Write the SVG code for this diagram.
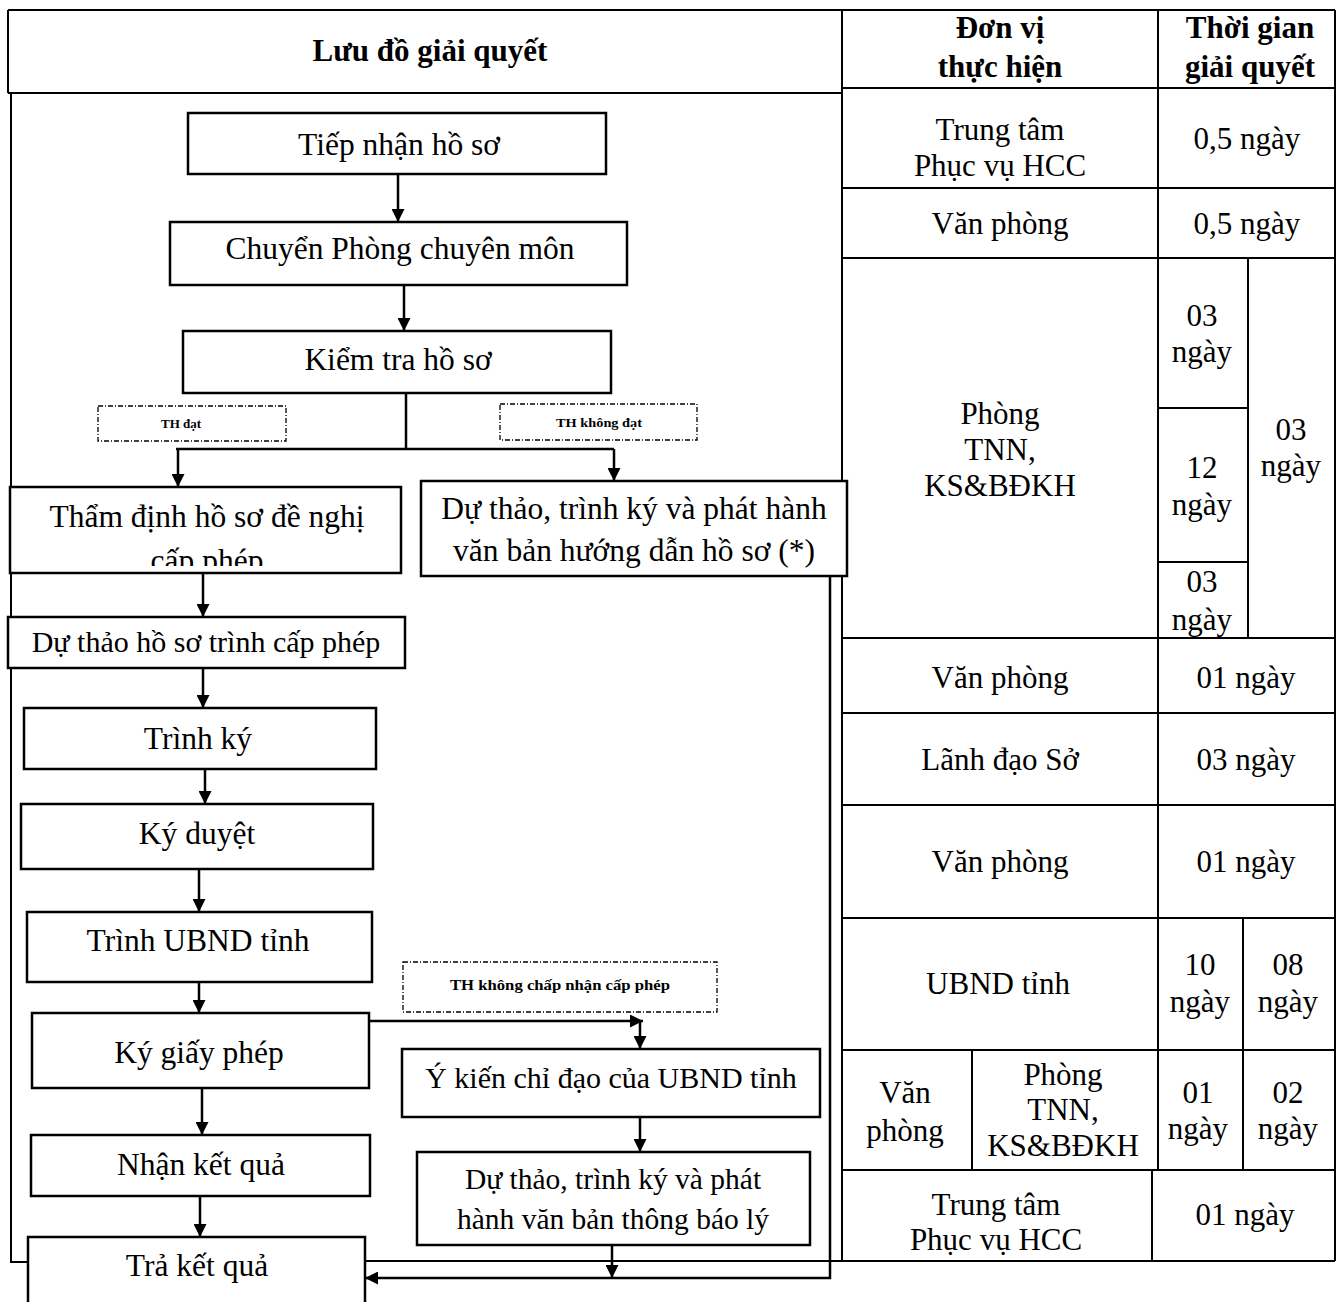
<svg xmlns="http://www.w3.org/2000/svg" width="1340" height="1302" viewBox="0 0 1340 1302">
<style>
text{font-family:"Liberation Serif","Times New Roman",serif;fill:#000;text-anchor:middle}
.t{font-size:31.5px}
.t2{font-size:30px}
.t3{font-size:29.5px}
.h{font-size:31px;font-weight:bold}
.c{font-size:31px}
.s{font-size:12px;font-weight:bold}
.s2{font-size:14px;font-weight:bold}
.box{fill:#fff;stroke:#000;stroke-width:2.5}
.lbl{fill:#fff;stroke:#000;stroke-width:1.3;stroke-dasharray:5 2 1 2}
.ln{fill:none;stroke:#000;stroke-width:2.5}
.tb{fill:none;stroke:#000;stroke-width:2}
</style>
<defs>
<marker id="ah" viewBox="0 0 10 10" refX="10" refY="5" markerWidth="6" markerHeight="5.2" orient="auto" markerUnits="strokeWidth">
<path d="M0,0 L10,5 L0,10 z" fill="#000"/>
</marker>
<clipPath id="clipTD"><rect x="10" y="487" width="391" height="79"/></clipPath>
</defs>
<rect width="1340" height="1302" fill="#fff"/>

<g id="frame">
<path class="tb" d="M8,10 H1335 M8,10 V93 M8,93 H842 M11,93 V1262 H28 M365,1261 H1335 M842,10 V1261 M1335,10 V1261"/>
<text class="h" x="430" y="61">Lưu đồ giải quyết</text>
</g>

<g id="table">
<path class="tb" d="M1158,10 V1170 M842,88 H1335 M842,188 H1335 M842,258 H1335 M1248,258 V638 M1158,408 H1248 M1158,562 H1248 M842,638 H1335 M842,713 H1335 M842,805 H1335 M842,918 H1335 M1243,918 V1170 M842,1050 H1335 M972,1050 V1170 M842,1170 H1335 M1152,1170 V1261"/>
<text class="h" x="1000" y="38">Đơn vị</text>
<text class="h" x="1000" y="77">thực hiện</text>
<text class="h" x="1250" y="38">Thời gian</text>
<text class="h" x="1250" y="77">giải quyết</text>
<text class="c" x="1000" y="140">Trung tâm</text>
<text class="c" x="1000" y="176">Phục vụ HCC</text>
<text class="c" x="1247" y="149">0,5 ngày</text>
<text class="c" x="1000" y="234">Văn phòng</text>
<text class="c" x="1247" y="234">0,5 ngày</text>
<text class="c" x="1000" y="424">Phòng</text>
<text class="c" x="1000" y="460">TNN,</text>
<text class="c" x="1000" y="496">KS&amp;BĐKH</text>
<text class="c" x="1202" y="326">03</text>
<text class="c" x="1202" y="362">ngày</text>
<text class="c" x="1202" y="478">12</text>
<text class="c" x="1202" y="515">ngày</text>
<text class="c" x="1202" y="592">03</text>
<text class="c" x="1202" y="630">ngày</text>
<text class="c" x="1291" y="440">03</text>
<text class="c" x="1291" y="476">ngày</text>
<text class="c" x="1000" y="688">Văn phòng</text>
<text class="c" x="1246" y="688">01 ngày</text>
<text class="c" x="1000" y="770">Lãnh đạo Sở</text>
<text class="c" x="1246" y="770">03 ngày</text>
<text class="c" x="1000" y="872">Văn phòng</text>
<text class="c" x="1246" y="872">01 ngày</text>
<text class="c" x="998" y="994">UBND tỉnh</text>
<text class="c" x="1200" y="975">10</text>
<text class="c" x="1200" y="1012">ngày</text>
<text class="c" x="1288" y="975">08</text>
<text class="c" x="1288" y="1012">ngày</text>
<text class="c" x="905" y="1103">Văn</text>
<text class="c" x="905" y="1141">phòng</text>
<text class="c" x="1063" y="1085">Phòng</text>
<text class="c" x="1063" y="1120">TNN,</text>
<text class="c" x="1063" y="1156">KS&amp;BĐKH</text>
<text class="c" x="1198" y="1103">01</text>
<text class="c" x="1198" y="1139">ngày</text>
<text class="c" x="1288" y="1103">02</text>
<text class="c" x="1288" y="1139">ngày</text>
<text class="c" x="996" y="1215">Trung tâm</text>
<text class="c" x="996" y="1250">Phục vụ HCC</text>
<text class="c" x="1245" y="1225">01 ngày</text>
</g>

<g id="connectors">
<path class="ln" d="M398,174 V222" marker-end="url(#ah)"/>
<path class="ln" d="M404,285 V331" marker-end="url(#ah)"/>
<path class="ln" d="M406,393 V449"/>
<path class="ln" d="M176,449 H614"/>
<path class="ln" d="M178,449 V487" marker-end="url(#ah)"/>
<path class="ln" d="M614,449 V481" marker-end="url(#ah)"/>
<path class="ln" d="M203,573 V617" marker-end="url(#ah)"/>
<path class="ln" d="M203,668 V708" marker-end="url(#ah)"/>
<path class="ln" d="M205,769 V804" marker-end="url(#ah)"/>
<path class="ln" d="M199,869 V912" marker-end="url(#ah)"/>
<path class="ln" d="M199,982 V1013" marker-end="url(#ah)"/>
<path class="ln" d="M202,1088 V1135" marker-end="url(#ah)"/>
<path class="ln" d="M200,1196 V1237" marker-end="url(#ah)"/>
<path class="ln" d="M369,1021 H643" marker-end="url(#ah)"/>
<path class="ln" d="M640,1021 V1049" marker-end="url(#ah)"/>
<path class="ln" d="M640,1117 V1152" marker-end="url(#ah)"/>
<path class="ln" d="M612,1245 V1278" marker-end="url(#ah)"/>
<path class="ln" d="M830,576 V1278 H365" marker-end="url(#ah)"/>
</g>

<g id="lbl-dat">
<rect class="lbl" x="98" y="406" width="188" height="35"/>
<text class="s" x="181" y="428" textLength="40" lengthAdjust="spacingAndGlyphs">TH đạt</text>
</g>
<g id="lbl-khongdat">
<rect class="lbl" x="500" y="404" width="197" height="36"/>
<text class="s" x="599" y="427" textLength="86" lengthAdjust="spacingAndGlyphs">TH không đạt</text>
</g>
<g id="lbl-khongchapnhan">
<rect class="lbl" x="403" y="962" width="314" height="50"/>
<text class="s2" x="560" y="990" textLength="220" lengthAdjust="spacingAndGlyphs">TH không chấp nhận cấp phép</text>
</g>

<g id="n-tiepnhan">
<rect class="box" x="188" y="113" width="418" height="61"/>
<text class="t" x="399" y="155">Tiếp nhận hồ sơ</text>
</g>
<g id="n-chuyen">
<rect class="box" x="170" y="222" width="457" height="63"/>
<text class="t" x="400" y="259">Chuyển Phòng chuyên môn</text>
</g>
<g id="n-kiemtra">
<rect class="box" x="183" y="331" width="428" height="62"/>
<text class="t" x="398" y="370">Kiểm tra hồ sơ</text>
</g>
<g id="n-thamdinh">
<rect class="box" x="10" y="487" width="391" height="86"/>
<text class="t" x="207" y="527">Thẩm định hồ sơ đề nghị</text>
<text class="t" x="207" y="571" clip-path="url(#clipTD)">cấp phép</text>
</g>
<g id="n-huongdan">
<rect class="box" x="421" y="481" width="426" height="95"/>
<text class="t" x="634" y="519">Dự thảo, trình ký và phát hành</text>
<text class="t" x="634" y="561">văn bản hướng dẫn hồ sơ (*)</text>
</g>
<g id="n-duthao">
<rect class="box" x="8" y="617" width="397" height="51"/>
<text class="t2" x="206" y="652">Dự thảo hồ sơ trình cấp phép</text>
</g>
<g id="n-trinhky">
<rect class="box" x="24" y="708" width="352" height="61"/>
<text class="t" x="198" y="749">Trình ký</text>
</g>
<g id="n-kyduyet">
<rect class="box" x="21" y="804" width="352" height="65"/>
<text class="t" x="197" y="844">Ký duyệt</text>
</g>
<g id="n-trinhubnd">
<rect class="box" x="27" y="912" width="345" height="70"/>
<text class="t" x="198" y="951">Trình UBND tỉnh</text>
</g>
<g id="n-kygiayphep">
<rect class="box" x="32" y="1013" width="337" height="75"/>
<text class="t" x="199" y="1063">Ký giấy phép</text>
</g>
<g id="n-nhanketqua">
<rect class="box" x="31" y="1135" width="339" height="61"/>
<text class="t" x="201" y="1175">Nhận kết quả</text>
</g>
<g id="n-traketqua">
<rect class="box" x="28" y="1237" width="337" height="75"/>
<text class="t" x="197" y="1276">Trả kết quả</text>
</g>
<g id="n-ykien">
<rect class="box" x="402" y="1049" width="418" height="68"/>
<text class="t2" x="611" y="1088">Ý kiến chỉ đạo của UBND tỉnh</text>
</g>
<g id="n-thongbao">
<rect class="box" x="417" y="1152" width="393" height="93"/>
<text class="t3" x="613" y="1189">Dự thảo, trình ký và phát</text>
<text class="t3" x="613" y="1229">hành văn bản thông báo lý</text>
</g>
</svg>
